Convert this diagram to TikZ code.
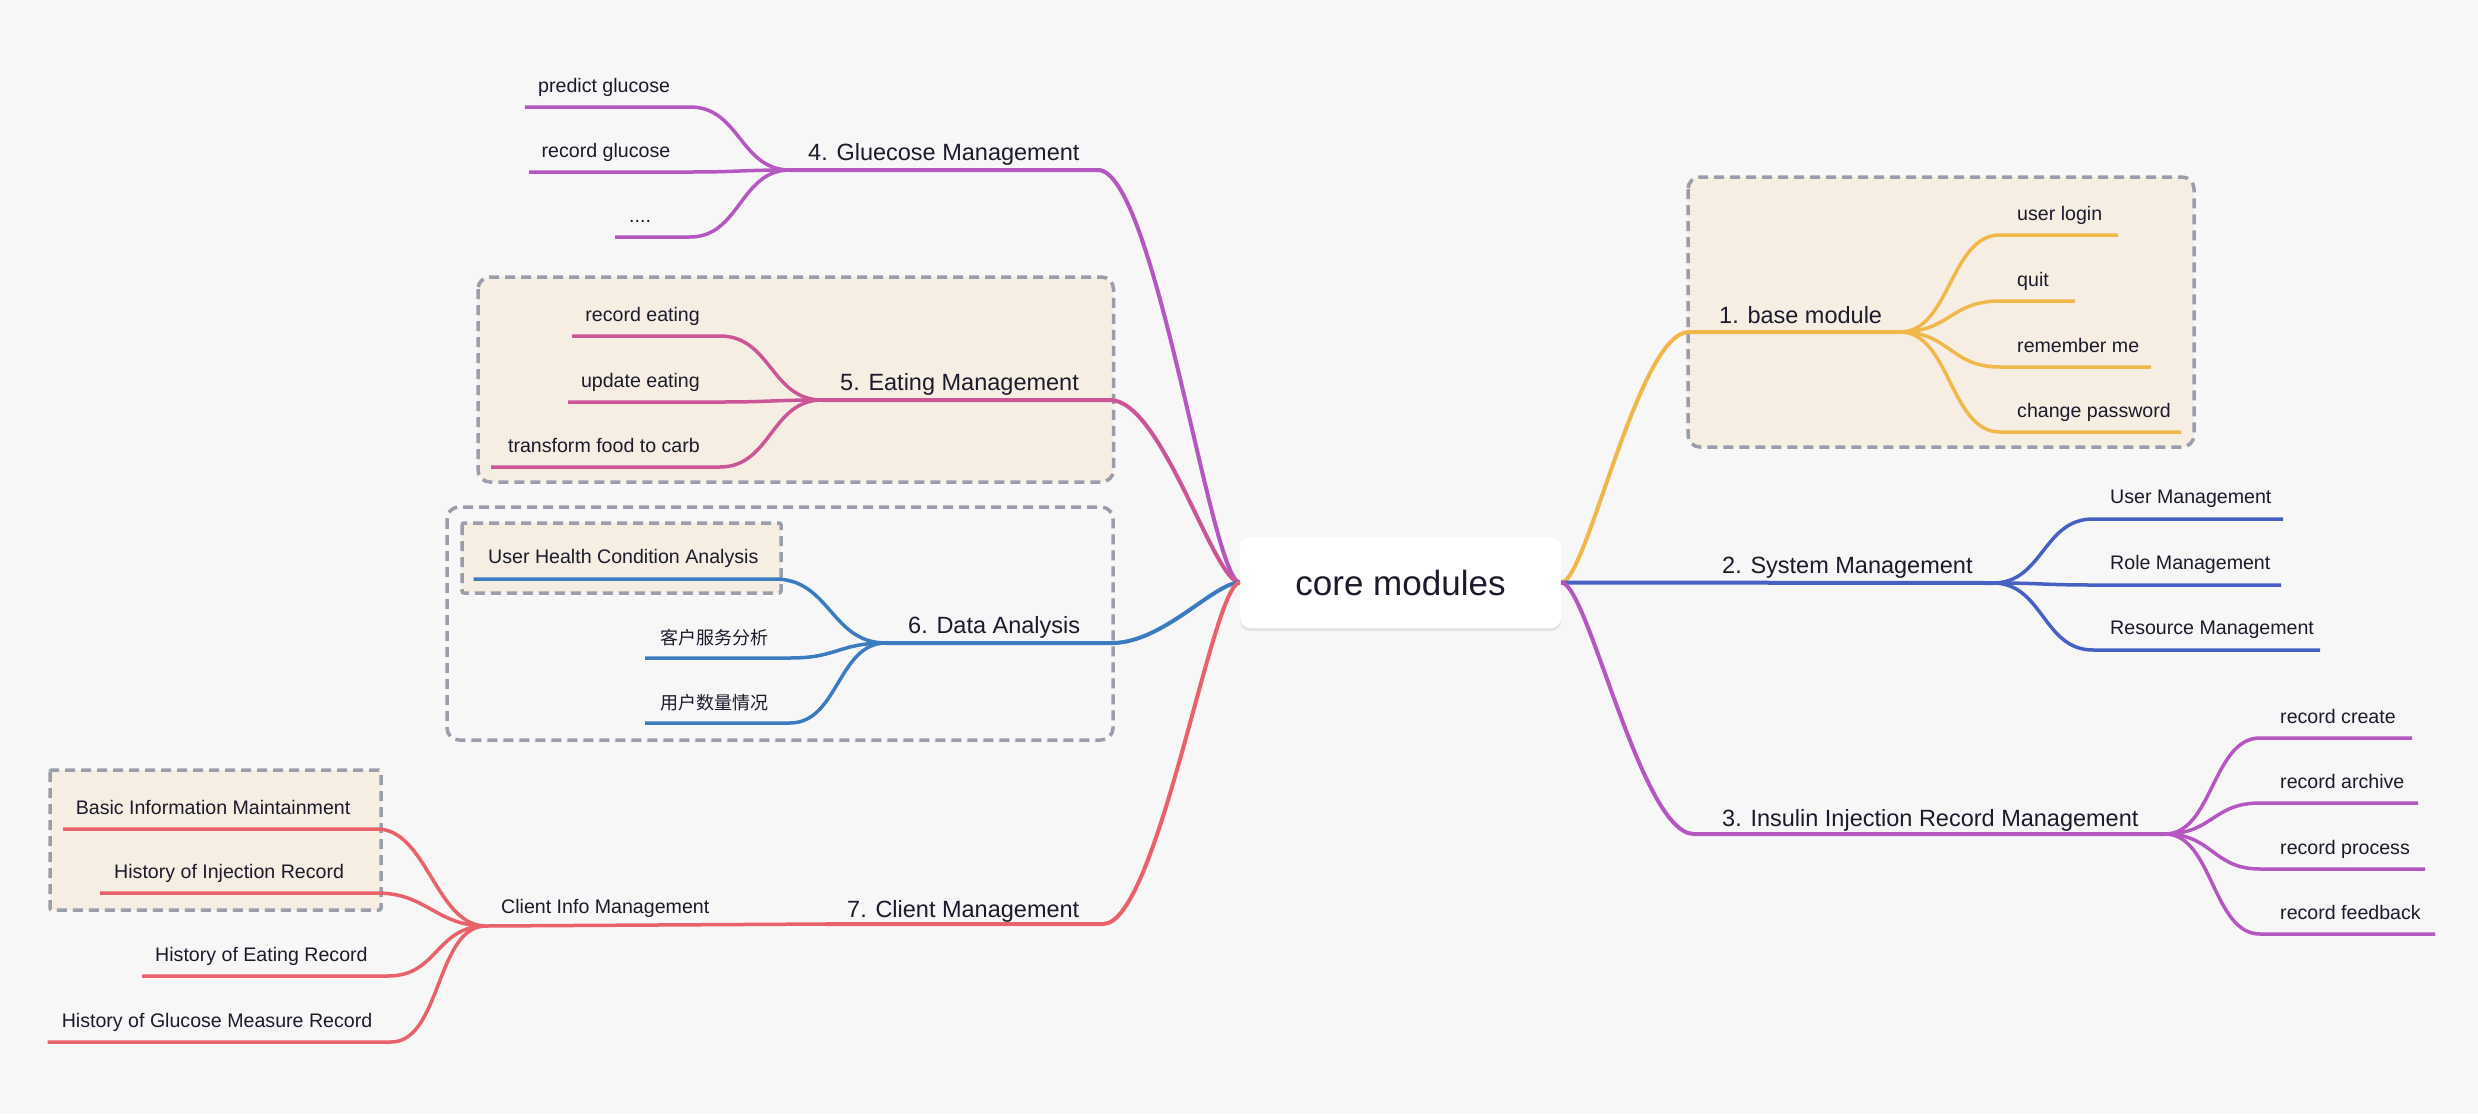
\documentclass[tikz,border=0pt]{standalone}
\usepackage{fontspec}
\setmainfont{Liberation Sans}
\newfontfamily\cjk{Noto Sans CJK SC}
\usetikzlibrary{shadows}
\definecolor{bg}{HTML}{F7F7F7}
\definecolor{txt}{HTML}{1B1B2C}
\definecolor{beige}{HTML}{F6EEE3}
\definecolor{dgray}{HTML}{9A9EAA}
\definecolor{corange}{HTML}{F0B84A}
\definecolor{csys}{HTML}{4660C4}
\definecolor{cpurp}{HTML}{B457C0}
\definecolor{cpink}{HTML}{CC5598}
\definecolor{cdata}{HTML}{3B7CC0}
\definecolor{cred}{HTML}{E9616A}
\begin{document}
\begin{tikzpicture}[x=1pt,y=-1pt,
  lbl/.style={inner sep=0pt,text=txt,font=\fontsize{19.6}{23}\selectfont},
  mlbl/.style={inner sep=0pt,text=txt,font=\fontsize{23.5}{27}\selectfont},
  mline/.style={line width=4pt},
  sline/.style={line width=3.5pt},
  grpbox/.style={draw=dgray,line width=3.5pt,dash pattern=on 10pt off 6pt},
  corebox/.style={fill=white,rounded corners=10pt,minimum width=321pt,minimum height=91pt,inner sep=0pt,
     text=txt,font=\fontsize{35}{40}\selectfont,
     drop shadow={shadow xshift=0pt,shadow yshift=-3pt,opacity=0.08,fill=black}}]
\useasboundingbox (0,0) rectangle (2478,1114);
\fill[bg] (0,0) rectangle (2478,1114);

% group boxes
\draw[grpbox,fill=beige,rounded corners=12pt] (1688,177) rectangle (2194,447);
\draw[grpbox,fill=beige,rounded corners=12pt] (478,277) rectangle (1113.5,482);
\draw[grpbox,rounded corners=12pt] (447,507) rectangle (1113,740);
\draw[grpbox,fill=beige,rounded corners=2pt] (462,523) rectangle (781,593);
\draw[grpbox,fill=beige,rounded corners=2pt] (50,770) rectangle (381,910);

% core
\node[corebox] (core) at (1400.5,582.5) {core modules};

% ---------- 1. base module ----------
\coordinate (b1s) at (1689,332); \coordinate (b1f) at (1900,332);
\draw[corange,mline] (core.east) .. controls +(25.6,0) and +(-51.2,0) .. (b1s) -- (b1f);
\node[mlbl,anchor=base west] (b1) at (1719,323) {1. base module};
\foreach \n/\y/\e/\t in {a/235/2118/user login,b/301/2075/quit,c/367/2151/remember me,d/432/2181/change password}{
  \coordinate (b1\n s) at (2000,\y); \coordinate (b1\n e) at (\e,\y);
  \draw[corange,sline] (b1f) .. controls +(50,0) and +(-50,0) .. (b1\n s) -- (b1\n e);
  \node[lbl,anchor=base west] (b1\n) at (2017,\y-15) {\t};
}

% ---------- 2. System Management ----------
\coordinate (b2f) at (1993,583);
\draw[csys,mline] (core.east) -- (b2f);
\node[mlbl,anchor=base west] (b2) at (1722,573) {2. System Management};
\foreach \n/\y/\e/\t in {a/519/2283/User Management,b/585/2281/Role Management,c/650/2320/Resource Management}{
  \coordinate (b2\n s) at (2093,\y); \coordinate (b2\n e) at (\e,\y);
  \draw[csys,sline] (b2f) .. controls +(50,0) and +(-50,0) .. (b2\n s) -- (b2\n e);
  \node[lbl,anchor=base west] (b2\n) at (2110,\y-16) {\t};
}

% ---------- 3. Insulin ----------
\coordinate (b3s) at (1694,834); \coordinate (b3f) at (2165,834);
\draw[cpurp,mline] (core.east) .. controls +(26.6,0) and +(-53.2,0) .. (b3s) -- (b3f);
\node[mlbl,anchor=base west] (b3) at (1722,826) {3. Insulin Injection Record Management};
\foreach \n/\y/\e/\t in {a/738/2412/record create,b/803/2418/record archive,c/869/2425/record process,d/934/2435/record feedback}{
  \coordinate (b3\n s) at (2260,\y); \coordinate (b3\n e) at (\e,\y);
  \draw[cpurp,sline] (b3f) .. controls +(47.5,0) and +(-47.5,0) .. (b3\n s) -- (b3\n e);
  \node[lbl,anchor=base west] (b3\n) at (2280,\y-15) {\t};
}

% ---------- 4. Gluecose ----------
\coordinate (b4s) at (1098,170); \coordinate (b4f) at (790,170);
\draw[cpurp,mline] (core.west) .. controls +(-28.4,0) and +(56.8,0) .. (b4s) -- (b4f);
\node[mlbl,anchor=base west] (b4) at (808,160) {4. Gluecose Management};
\foreach \n/\y/\s/\x/\t in {a/107/525/538/predict glucose,b/172/529/541.5/record glucose}{
  \coordinate (b4\n s) at (690,\y); \coordinate (b4\n e) at (\s,\y);
  \draw[cpurp,sline] (b4f) .. controls +(-50,0) and +(50,0) .. (b4\n s) -- (b4\n e);
  \node[lbl,anchor=base west] (b4\n) at (\x,\y-15) {\t};
}
\coordinate (b4cs) at (690,237); \coordinate (b4ce) at (615,237);
\draw[cpurp,sline] (b4f) .. controls +(-50,0) and +(50,0) .. (b4cs) -- (b4ce);
\node[lbl,anchor=base west] (b4c) at (629,222) {....};

% ---------- 5. Eating ----------
\coordinate (b5s) at (1110,400); \coordinate (b5f) at (822,400);
\draw[cpink,mline] (core.west) .. controls +(-26,0) and +(52,0) .. (b5s) -- (b5f);
\node[mlbl,anchor=base west] (b5) at (840,390) {5. Eating Management};
\foreach \n/\y/\s/\t in {a/336/572/record eating,b/402/568/update eating,c/467/491/transform food to carb}{
  \coordinate (b5\n s) at (720,\y); \coordinate (b5\n e) at (\s,\y);
  \draw[cpink,sline] (b5f) .. controls +(-51,0) and +(51,0) .. (b5\n s) -- (b5\n e);
  \node[lbl,anchor=base east] (b5\n) at (700,\y-15) {\t};
}

% ---------- 6. Data Analysis ----------
\coordinate (b6s) at (1112,643); \coordinate (b6f) at (886,643);
\draw[cdata,mline] (core.west) .. controls +(-25.6,0) and +(51.2,0) .. (b6s) -- (b6f);
\node[mlbl,anchor=base west] (b6) at (908,633) {6. Data Analysis};
\coordinate (b6as) at (775,579); \coordinate (b6ae) at (473.5,579);
\draw[cdata,sline] (b6f) .. controls +(-55,0) and +(55,0) .. (b6as) -- (b6ae);
\node[lbl,anchor=base west] (b6a) at (488,563) {User Health Condition Analysis};
\foreach \n/\y/\t in {b/658/客户服务分析,c/723/用户数量情况}{
  \coordinate (b6\n s) at (790,\y); \coordinate (b6\n e) at (645,\y);
  \draw[cdata,sline] (b6f) .. controls +(-48,0) and +(48,0) .. (b6\n s) -- (b6\n e);
  \node[lbl,anchor=base west,font=\cjk\fontsize{18}{22}\selectfont] (b6\n) at (660,\y-14) {\t};
}

% ---------- 7. Client Management ----------
\coordinate (b7s) at (1103,924); \coordinate (b7f) at (826,924); \coordinate (cif) at (486,926);
\draw[cred,mline] (core.west) .. controls +(-27.4,0) and +(54.8,0) .. (b7s) -- (b7f);
\draw[cred,sline] (b7f) -- (cif);
\node[mlbl,anchor=base west] (b7) at (847,917) {7. Client Management};
\node[lbl,anchor=base west] (ci) at (501,913) {Client Info Management};
\foreach \n/\y/\s/\e/\x/\t in {a/829/377/63/75.6/Basic Information Maintainment,b/893/377/100/114/History of Injection Record,c/976/388/142/155/History of Eating Record,d/1042/391/47.5/61.6/History of Glucose Measure Record}{
  \coordinate (c\n s) at (\s,\y); \coordinate (c\n e) at (\e,\y);
  \draw[cred,sline] (cif) .. controls +(-50,0) and +(50,0) .. (c\n s) -- (c\n e);
  \node[lbl,anchor=base west] (c\n) at (\x,\y-15) {\t};
}
\end{tikzpicture}
\end{document}
